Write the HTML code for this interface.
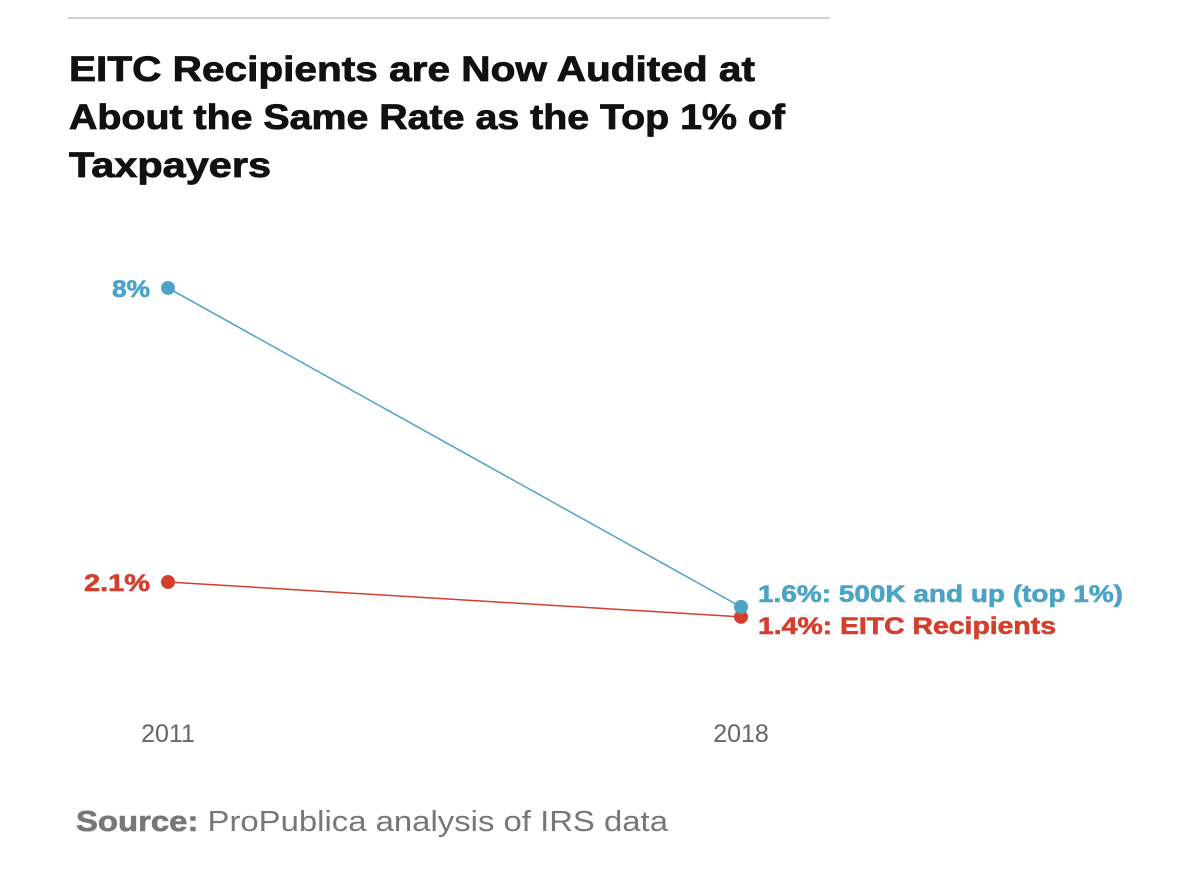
<!DOCTYPE html>
<html><head><meta charset="utf-8"><style>
html,body{margin:0;padding:0;background:#fff;width:1200px;height:877px;overflow:hidden;font-family:"Liberation Sans",sans-serif}
svg{display:block}
</style></head><body>
<svg id="chart" width="1200" height="877">
<line x1="68" y1="18" x2="830" y2="18" stroke="#cfcfcf" stroke-width="2"/>
<g font-weight="bold" font-size="35" fill="#111" stroke="#111" stroke-width="0.8">
<text x="69" y="81" textLength="686" lengthAdjust="spacingAndGlyphs">EITC Recipients are Now Audited at</text>
<text x="69" y="129" textLength="716" lengthAdjust="spacingAndGlyphs">About the Same Rate as the Top 1% of</text>
<text x="69" y="177" textLength="202" lengthAdjust="spacingAndGlyphs">Taxpayers</text>
</g>
<g id="marks"></g>
<text x="76" y="831" font-size="29" fill="#777" textLength="592" lengthAdjust="spacingAndGlyphs"><tspan font-weight="bold" stroke="#777" stroke-width="0.6">Source:</tspan> ProPublica analysis of IRS data</text>
</svg>
<script>
const years = ["2011", "2018"];
const topValues = [8, 1.6];
const eitcValues = [2.1, 1.4];
const startLabels = ["8%", "2.1%"];
const endLabels = ["1.6%: 500K and up (top 1%)", "1.4%: EITC Recipients"];
const startLens = [38, 66];

const xPos = i => 168 + i * 573;
const yPos = v => 686.6 - v * 49.83;
const NS = "http://www.w3.org/2000/svg";
const g = document.getElementById("marks");
function mk(tag, attrs) { const e = document.createElementNS(NS, tag); for (const k in attrs) e.setAttribute(k, attrs[k]); g.appendChild(e); return e; }

years.forEach((y, i) => {
  const t = mk("text", {x: xPos(i), y: 742, "font-size": 25, fill: "#666", "text-anchor": "middle"});
  t.textContent = y;
  
  
});

const series = [
  {vals: eitcValues, color: "#d43f2d", name: "eitc", idx: 1},
  {vals: topValues, color: "#4ba3c6", name: "top-1pct", idx: 0}
];
series.forEach(s => {
  const l = mk("line", {x1: xPos(0), y1: yPos(s.vals[0]), x2: xPos(1), y2: yPos(s.vals[1]), stroke: s.color, "stroke-width": 1.5});
  
  
  s.vals.forEach((v, i) => {
    const c = mk("circle", {cx: xPos(i), cy: yPos(v), r: 7, fill: s.color});
    
    
  });
  const a = mk("text", {x: xPos(0) - 18 - startLens[s.idx], y: yPos(s.vals[0]) + 9, "font-size": 24, "font-weight": "bold", fill: s.color, stroke: s.color, "stroke-width": 0.6, textLength: startLens[s.idx], lengthAdjust: "spacingAndGlyphs"});
  a.textContent = startLabels[s.idx];
  
  
});
const b1 = mk("text", {x: 758, y: 602, "font-size": 24, "font-weight": "bold", fill: "#4ba3c6", stroke: "#4ba3c6", "stroke-width": 0.6, textLength: 365, lengthAdjust: "spacingAndGlyphs"});
b1.textContent = endLabels[0];


const b2 = mk("text", {x: 758, y: 634, "font-size": 24, "font-weight": "bold", fill: "#d43f2d", stroke: "#d43f2d", "stroke-width": 0.6, textLength: 298, lengthAdjust: "spacingAndGlyphs"});
b2.textContent = endLabels[1];


</script>
</body></html>
